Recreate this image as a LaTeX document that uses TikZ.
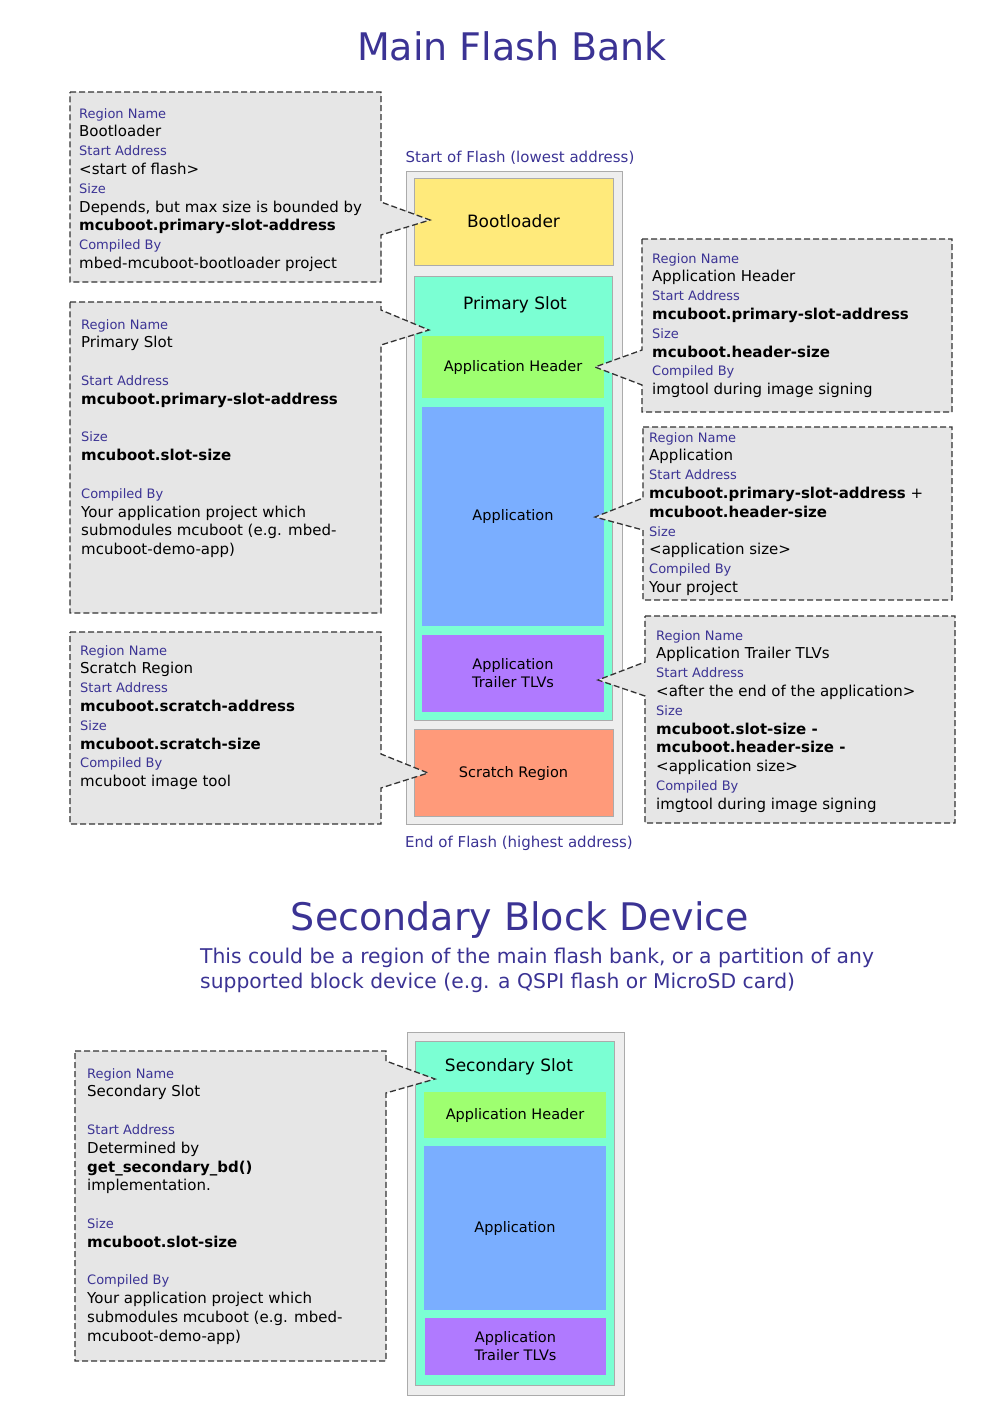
\documentclass[tikz,border=0pt]{standalone}
\usepackage{fontspec}
\setmainfont{DejaVu Sans}
\usetikzlibrary{calc, positioning}
\definecolor{titleBlue}{HTML}{3B3394}
\definecolor{calloutGray}{HTML}{E6E6E6}
\definecolor{calloutLine}{HTML}{333333}
\definecolor{flashGray}{HTML}{EEEEEE}
\definecolor{edgeGray}{HTML}{ABABAB}
\definecolor{bootYellow}{HTML}{FFEA7B}
\definecolor{slotAqua}{HTML}{7BFFD3}
\definecolor{hdrGreen}{HTML}{9EFF70}
\definecolor{appBlue}{HTML}{7AAEFF}
\definecolor{tlvPurple}{HTML}{B07AFF}
\definecolor{scratchSalmon}{HTML}{FF9A7A}
\newcommand{\fieldname}[1]{{\fontsize{13}{18.8}\selectfont\color{titleBlue}#1}}
\tikzset{
  titletext/.style={anchor=base, text=titleBlue, font=\fontsize{38}{44}\selectfont},
  addrtext/.style={text=titleBlue, font=\fontsize{15}{18}\selectfont},
  flashbox/.style={rectangle, anchor=north west, draw=edgeGray, fill=flashGray,
                   line width=1pt, inner sep=0pt, outer sep=0pt},
  region/.style={rectangle, anchor=north west, draw=edgeGray, line width=0.8pt,
                 inner sep=0pt, outer sep=0pt, align=center, text height=1.2em,
                 font=\fontsize{14.5}{18}\selectfont},
  subregion/.style={rectangle, anchor=north west, inner sep=0pt, outer sep=0pt,
                    align=center, font=\fontsize{14.5}{18}\selectfont},
  bigname/.style={font=\fontsize{17}{20}\selectfont},
  calloutbox/.style={fill=calloutGray, draw=calloutLine, line width=1.3pt,
                     dash pattern=on 6pt off 3pt},
  calltext/.style={anchor=north west, align=left, inner sep=0pt,
                   font=\fontsize{15}{18.8}\selectfont},
}

\begin{document}
\begin{tikzpicture}[x=1pt, y=-1pt]
  \useasboundingbox (0,0) rectangle (1000,1414);

  % ---- main flash bank ----
  \node[titletext] (title1) at (512,60) {Main Flash Bank};
  \node[addrtext] (startaddr) at (520,158) {Start of Flash (lowest address)};
  \node[addrtext] (endaddr) at (519,843) {End of Flash (highest address)};

  \node[flashbox, minimum width=216pt, minimum height=653pt] (flash) at (406,171) {};
  \node[region, fill=bootYellow, minimum width=199pt, minimum height=87pt, bigname]
    (boot) at (414,178) {Bootloader};
  \node[region, fill=slotAqua, minimum width=198pt, minimum height=444pt]
    (pslot) at (414,276) {};
  \node[bigname] (pslotname) at (515,305) {Primary Slot};
  \node[subregion, fill=hdrGreen, minimum width=182pt, minimum height=62pt]
    (phdr) at (422,336) {Application Header};
  \node[subregion, fill=appBlue, minimum width=182pt, minimum height=219pt]
    (papp) at (422,407) {Application};
  \node[subregion, fill=tlvPurple, minimum width=182pt, minimum height=77pt]
    (ptlv) at (422,635) {Application\\Trailer TLVs};
  \node[region, fill=scratchSalmon, minimum width=199pt, minimum height=87pt]
    (scratch) at (414,729) {Scratch Region};

  % callout tips
  \coordinate (tipBoot) at ($(boot.west)+(16,-1.5)$);
  \coordinate (tipPslot) at ($(pslot.north west)+(15,54)$);
  \coordinate (tipHdr) at ($(phdr.east)+(-9,0)$);
  \coordinate (tipApp) at ($(papp.east)+(-9,0.5)$);
  \coordinate (tipTlv) at ($(ptlv.east)+(-6,6.5)$);
  \coordinate (tipScratch) at ($(scratch.west)+(14,0.5)$);

  % callouts
  \draw[calloutbox] (70,92) -- (381,92) -- (381,202) -- (tipBoot) -- (381,235)
    -- (381,282) -- (70,282) -- cycle;
  \node[calltext] (cBoot) at (79,108) {\fieldname{Region Name}\\Bootloader\\
    \fieldname{Start Address}\\<start of flash>\\\fieldname{Size}\\
    Depends, but max size is bounded by\\\textbf{mcuboot.primary-slot-address}\\
    \fieldname{Compiled By}\\mbed-mcuboot-bootloader project};

  \draw[calloutbox] (70,302) -- (381,302) -- (381,310) -- (tipPslot) -- (381,345)
    -- (381,613) -- (70,613) -- cycle;
  \node[calltext] (cPslot) at (81,319) {\fieldname{Region Name}\\Primary Slot\\[18.8pt]
    \fieldname{Start Address}\\\textbf{mcuboot.primary-slot-address}\\[18.8pt]
    \fieldname{Size}\\\textbf{mcuboot.slot-size}\\[18.8pt]
    \fieldname{Compiled By}\\Your application project which\\
    submodules mcuboot (e.g. mbed-\\mcuboot-demo-app)};

  \draw[calloutbox] (642,239) -- (952,239) -- (952,412) -- (642,412) -- (642,385)
    -- (tipHdr) -- (642,350) -- cycle;
  \node[calltext] (cHdr) at (652,253) {\fieldname{Region Name}\\Application Header\\
    \fieldname{Start Address}\\\textbf{mcuboot.primary-slot-address}\\
    \fieldname{Size}\\\textbf{mcuboot.header-size}\\
    \fieldname{Compiled By}\\imgtool during image signing};

  \draw[calloutbox] (643,427) -- (952,427) -- (952,600) -- (643,600) -- (643,530)
    -- (tipApp) -- (643,498) -- cycle;
  \node[calltext] (cApp) at (649,432) {\fieldname{Region Name}\\Application\\
    \fieldname{Start Address}\\\textbf{mcuboot.primary-slot-address} +\\
    \textbf{mcuboot.header-size}\\\fieldname{Size}\\<application size>\\
    \fieldname{Compiled By}\\Your project};

  \draw[calloutbox] (645,616) -- (955,616) -- (955,823) -- (645,823) -- (645,696)
    -- (tipTlv) -- (645,662) -- cycle;
  \node[calltext] (cTlv) at (656,630) {\fieldname{Region Name}\\Application Trailer TLVs\\
    \fieldname{Start Address}\\<after the end of the application>\\\fieldname{Size}\\
    \textbf{mcuboot.slot-size -}\\\textbf{mcuboot.header-size -}\\<application size>\\
    \fieldname{Compiled By}\\imgtool during image signing};

  \draw[calloutbox] (70,632) -- (381,632) -- (381,754) -- (tipScratch) -- (381,788)
    -- (381,824) -- (70,824) -- cycle;
  \node[calltext] (cScratch) at (80,645) {\fieldname{Region Name}\\Scratch Region\\
    \fieldname{Start Address}\\\textbf{mcuboot.scratch-address}\\\fieldname{Size}\\
    \textbf{mcuboot.scratch-size}\\\fieldname{Compiled By}\\mcuboot image tool};

  % ---- secondary block device ----
  \node[titletext] (title2) at (520,930) {Secondary Block Device};
  \node[anchor=north west, align=left, inner sep=0pt, text=titleBlue,
        font=\fontsize{20.3}{25}\selectfont] (subtitle) at (200,948)
    {This could be a region of the main flash bank, or a partition of any\\
     supported block device (e.g. a QSPI flash or MicroSD card)};

  \node[flashbox, minimum width=217pt, minimum height=363pt] (bdev) at (407,1032) {};
  \node[region, fill=slotAqua, minimum width=199pt, minimum height=344pt]
    (sslot) at (415,1041) {};
  \node[bigname] (sslotname) at (509,1067) {Secondary Slot};
  \node[subregion, fill=hdrGreen, minimum width=182pt, minimum height=46pt]
    (shdr) at (424,1092) {Application Header};
  \node[subregion, fill=appBlue, minimum width=182pt, minimum height=164pt]
    (sapp) at (424,1146) {Application};
  \node[subregion, fill=tlvPurple, minimum width=181pt, minimum height=57pt]
    (stlv) at (425,1318) {Application\\Trailer TLVs};

  \coordinate (tipSslot) at ($(sslot.north west)+(20,38)$);
  \draw[calloutbox] (75,1051) -- (386,1051) -- (386,1061) -- (tipSslot) -- (386,1093)
    -- (386,1361) -- (75,1361) -- cycle;
  \node[calltext] (cSslot) at (87,1068) {\fieldname{Region Name}\\Secondary Slot\\[18.8pt]
    \fieldname{Start Address}\\Determined by\\\textbf{get\_secondary\_bd()}\\
    implementation.\\[18.8pt]
    \fieldname{Size}\\\textbf{mcuboot.slot-size}\\[18.8pt]
    \fieldname{Compiled By}\\Your application project which\\
    submodules mcuboot (e.g. mbed-\\mcuboot-demo-app)};
\end{tikzpicture}
\end{document}
